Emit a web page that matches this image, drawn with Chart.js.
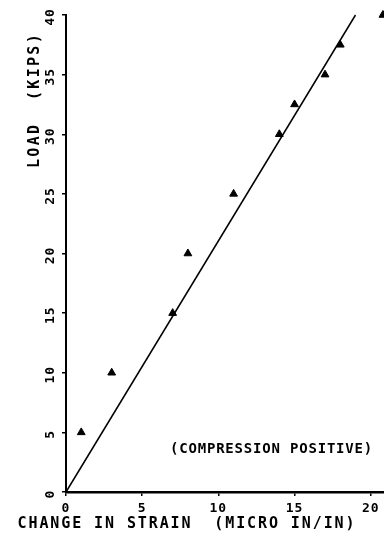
<!DOCTYPE html>
<html>
<head>
<meta charset="utf-8">
<script src="https://cdn.jsdelivr.net/npm/chart.js@4"></script>
<style>
  html, body { margin: 0; padding: 0; background: #fff; }
  canvas { display: block; }
</style>
</head>
<body>
<canvas id="loadChart" width="384" height="540"></canvas>
<script>
// measured points: change in strain (micro in/in) vs load (kips)
const strainData = [1, 3, 7, 8, 11, 14, 15, 17, 18, 20.8];
const loadData = [5, 10, 15, 20, 25, 30, 32.5, 35, 37.5, 40];

// fitted straight line
const fitStrain = [0, 19];
const fitLoad = [0, 40];

const xTickValues = [0, 5, 10, 15, 20];
const yTickValues = [0, 5, 10, 15, 20, 25, 30, 35, 40];

const xTitle = "CHANGE IN STRAIN  (MICRO IN/IN)";
const yTitle = "LOAD  (KIPS)";
const noteText = "(COMPRESSION POSITIVE)";

const FONT = '"DejaVu Sans Mono", "Liberation Mono", monospace';

// draws the rotated y labels, x labels and the titles in plotter style
const plotterText = {
    id: "plotterText",
    afterDraw(chart) {
        const ctx = chart.ctx;
        const xs = chart.scales.x;
        const ys = chart.scales.y;
        ctx.save();
        ctx.fillStyle = "#000";
        ctx.textAlign = "center";
        ctx.textBaseline = "middle";

        // y tick labels, read bottom to top
        ctx.font = "bold 13px " + FONT;
        ctx.letterSpacing = "1px";
        yTickValues.forEach(v => {
            const py = ys.getPixelForValue(v);
            ctx.save();
            ctx.translate(51, py + 2);
            ctx.rotate(-Math.PI / 2);
            ctx.fillText(String(v), 0, 0);
            ctx.restore();
        });

        // x tick labels
        xTickValues.forEach(v => {
            ctx.fillText(String(v), xs.getPixelForValue(v), 509);
        });

        // axis titles
        ctx.font = "bold 15px " + FONT;
        ctx.letterSpacing = "1.9px";
        ctx.fillText(xTitle, 187, 524);

        ctx.letterSpacing = "2.3px";
        ctx.save();
        ctx.translate(35, 100);
        ctx.rotate(-Math.PI / 2);
        ctx.fillText(yTitle, 0, 0);
        ctx.restore();

        // note inside the plot
        ctx.font = "bold 14px " + FONT;
        ctx.letterSpacing = "0.8px";
        ctx.textAlign = "left";
        ctx.fillText(noteText, 170, 449);

        ctx.restore();
    }
};

new Chart(document.getElementById("loadChart").getContext("2d"), {
    type: "scatter",
    data: {
        datasets: [
            {
                label: "measured",
                data: strainData.map((s, i) => ({ x: s, y: loadData[i] })),
                pointStyle: "triangle",
                pointRadius: 4.5,
                backgroundColor: "#000",
                borderColor: "#000",
                borderWidth: 1,
                clip: false,
            },
            {
                type: "line",
                label: "fit",
                data: fitStrain.map((s, i) => ({ x: s, y: fitLoad[i] })),
                borderColor: "#000",
                borderWidth: 1.5,
                pointRadius: 0,
                fill: false,
                clip: false,
            },
        ],
    },
    options: {
        responsive: false,
        animation: false,
        layout: { autoPadding: false, padding: { top: 15, right: 0, bottom: 0, left: 0 } },
        plugins: {
            legend: { display: false },
            tooltip: { enabled: false },
        },
        scales: {
            x: {
                type: "linear",
                min: 0,
                max: 20.87,
                ticks: { display: false, stepSize: 5, includeBounds: false },
                grid: { drawOnChartArea: false, drawTicks: true, tickLength: 4, color: "#000", lineWidth: 1.5 },
                border: { display: true, color: "#000", width: 2.5 },
                afterFit: s => { s.height = 48; },
            },
            y: {
                type: "linear",
                min: 0,
                max: 40,
                ticks: { display: false, stepSize: 5 },
                grid: { drawOnChartArea: false, drawTicks: true, tickLength: 4, color: "#000", lineWidth: 1.5 },
                border: { display: true, color: "#000", width: 2 },
                afterFit: s => { s.width = 66; },
            },
        },
    },
    plugins: [plotterText],
});
</script>
</body>
</html>
